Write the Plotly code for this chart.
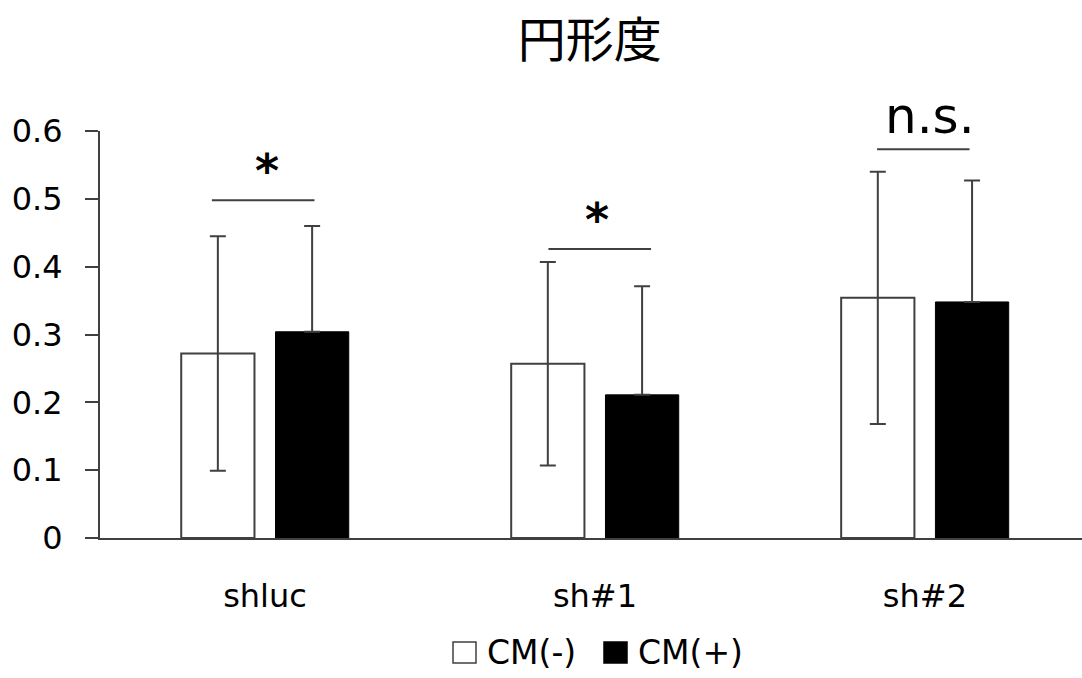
import plotly.graph_objects as go

# Circularity (円形度) per knockdown condition, mean ± SD
categories = ["shluc", "sh#1", "sh#2"]
series_names = ["CM(-)", "CM(+)"]
cm_minus = [0.272, 0.257, 0.354]
cm_minus_sd = [0.173, 0.150, 0.186]
cm_plus = [0.304, 0.211, 0.348]
cm_plus_sd = [0.156, 0.160, 0.179]

# Significance brackets: label and bracket height for each group
sig_labels = ["*", "*", "n.s."]
sig_y = [0.498, 0.426, 0.573]

LINE = "#404040"
FONT = "DejaVu Sans"
W, H = 1082, 678
ML, MR, MT, MB = 100, 0, 131, 140

fig = go.Figure()
fig.add_trace(go.Bar(
    name=series_names[0], x=categories, y=cm_minus,
    marker=dict(color="white", line=dict(color=LINE, width=2)),
    error_y=dict(type="data", array=cm_minus_sd, color=LINE, thickness=2, width=8),
))
fig.add_trace(go.Bar(
    name=series_names[1], x=categories, y=cm_plus,
    marker=dict(color="black", line=dict(color="black", width=1)),
    error_y=dict(type="data", array=cm_plus_sd, symmetric=False,
                 arrayminus=[0] * len(cm_plus_sd), color=LINE, thickness=2, width=8),
))

# bracket spans relative to each group centre (category units)
spans = [(-0.161, 0.150), (-0.141, 0.170), (-0.145, 0.135)]
label_dx = [4, -3, 7]
for i, (lab, yv) in enumerate(zip(sig_labels, sig_y)):
    x0, x1 = spans[i]
    fig.add_shape(type="line", xref="x", yref="y", x0=i + x0, x1=i + x1, y0=yv, y1=yv,
                  line=dict(color=LINE, width=2))
    is_star = lab == "*"
    fig.add_annotation(
        x=i + (x0 + x1) / 2, y=yv, xref="x", yref="y", text=lab, showarrow=False,
        yanchor="bottom", yshift=0 if is_star else 2, xshift=label_dx[i],
        font=dict(family=FONT, size=46 if is_star else 50, color="black",
                  weight="bold" if is_star else "normal"),
    )


# legend below the axis: outlined / filled swatches with series names
def px_x(px):
    return (px - ML) / (W - ML - MR)


def px_y(py):
    return (H - MB - py) / (H - MT - MB)


swatches = [(453, "white"), (604, "black")]
for (sx, fill), name in zip(swatches, series_names):
    fig.add_shape(type="rect", xref="paper", yref="paper",
                  x0=px_x(sx), x1=px_x(sx + 23), y0=px_y(663), y1=px_y(642),
                  fillcolor=fill, line=dict(color=LINE if fill == "white" else "black", width=1.5))
    fig.add_annotation(x=px_x(sx + 32), y=px_y(652), xref="paper", yref="paper",
                       text=name, showarrow=False, xanchor="left", yanchor="middle",
                       font=dict(family=FONT, size=33, color="black"))

fig.update_layout(
    width=W, height=H,
    margin=dict(l=ML, r=MR, t=MT, b=MB),
    paper_bgcolor="white", plot_bgcolor="white",
    barmode="group", bargap=0.4286, bargroupgap=0.223,
    title=dict(text="円形度", x=0.545, xanchor="center", y=1 - 40 / H, yanchor="middle",
               font=dict(family="Noto Sans CJK JP", size=48, color="black")),
    font=dict(family=FONT, size=32, color="black"),
    showlegend=False,
    xaxis=dict(range=[-0.5, 2.476], showline=True, linecolor=LINE, linewidth=2,
               ticks="", showgrid=False, zeroline=False, ticklabelstandoff=29,
               tickfont=dict(family=FONT, size=32, color="black")),
    yaxis=dict(range=[0, 0.6], tickvals=[0, 0.1, 0.2, 0.3, 0.4, 0.5, 0.6],
               ticktext=["0", "0.1", "0.2", "0.3", "0.4", "0.5", "0.6"],
               showline=True, linecolor=LINE, linewidth=2, ticks="outside", ticklen=13,
               tickwidth=2, tickcolor=LINE, showgrid=False, zeroline=False,
               ticklabelstandoff=16, tickfont=dict(family=FONT, size=32, color="black")),
)

fig.write_html("out.html")
